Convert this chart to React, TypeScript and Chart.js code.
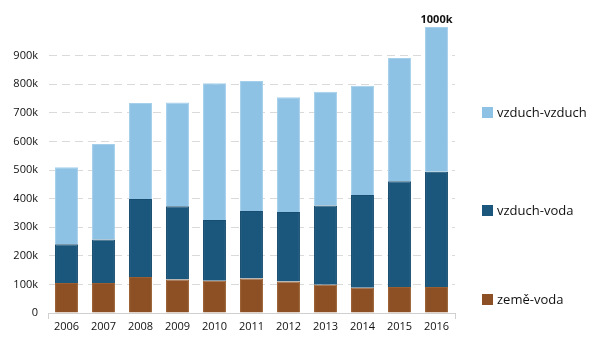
import React, { useEffect, useRef } from "react";
import { Chart, registerables } from "chart.js";

Chart.register(...registerables);

const years = ["2006", "2007", "2008", "2009", "2010", "2011", "2012", "2013", "2014", "2015", "2016"];
const zemeVoda = [105, 105, 126, 117, 113, 121, 110, 99, 88, 91, 91];
const vzduchVoda = [135, 152, 273, 256, 212, 236, 243, 277, 325, 370, 403];
const vzduchVzduch = [270, 334, 335, 363, 478, 454, 401, 398, 382, 431, 506];
const seriesNames = ["země-voda", "vzduch-voda", "vzduch-vzduch"];
const seriesColors = ["#8c5024", "#1b577d", "#8dc2e5"];
const seriesBorders = ["#9a5e30", "#174d70", "#a5cfeb"];
const totalLabel = "1000k";

const FONT = "'Open Sans', 'DejaVu Sans', sans-serif";

const totalPlugin = {
  id: "totalLabel",
  afterDatasetsDraw(chart: any) {
    const ctx = chart.ctx;
    const last = years.length - 1;
    const total = (zemeVoda[last] + vzduchVoda[last] + vzduchVzduch[last]) * 1000;
    const x = chart.scales.x.getPixelForValue(last);
    const y = chart.scales.y.getPixelForValue(total);
    ctx.save();
    ctx.font = `bold 11px ${FONT}`;
    ctx.fillStyle = "#111";
    ctx.textAlign = "center";
    ctx.textBaseline = "bottom";
    ctx.fillText(totalLabel, x, y - 2);
    ctx.restore();
  },
};

export default function App() {
  const ref = useRef<HTMLCanvasElement | null>(null);

  useEffect(() => {
    if (!ref.current) return;
    const data = [zemeVoda, vzduchVoda, vzduchVzduch];
    const chart = new Chart(ref.current, {
      type: "bar",
      data: {
        labels: years,
        datasets: data.map((d, i) => ({
          label: seriesNames[i],
          data: d.map((v) => v * 1000),
          backgroundColor: seriesColors[i],
          borderColor: seriesBorders[i],
          borderWidth: 1,
          categoryPercentage: 1,
          barPercentage: 0.62,
        })),
      },
      options: {
        animation: false,
        responsive: false,
        maintainAspectRatio: false,
        layout: { padding: { top: 27, right: 145, left: 0, bottom: 0 } },
        plugins: { legend: { display: false }, tooltip: { enabled: false } },
        scales: {
          x: {
            stacked: true,
            offset: true,
            grid: {
              display: true,
              offset: true,
              drawOnChartArea: false,
              tickLength: 6,
              color: (c: any) => (c.type === "scale" || c.index === 0 ? "#d0d0d0" : "rgba(0,0,0,0)"),
            },
            border: { display: true, color: "#d0d0d0" },
            ticks: { color: "#111", font: { family: FONT, size: 11 }, padding: 1, maxRotation: 0 },
            afterFit: (s: any) => { s.height = 35; },
          },
          y: {
            stacked: true,
            min: 0,
            max: 1000000,
            border: { display: true, color: "rgba(0,0,0,0)", dash: [8, 5] },
            grid: {
              color: (c: any) => (c.tick && (c.tick.value === 0 || c.tick.value === 1000000) ? "rgba(0,0,0,0)" : "#dadada"),
              drawTicks: false,
            },
            ticks: {
              stepSize: 100000,
              color: "#111",
              padding: 10,
              font: { family: FONT, size: 11 },
              callback: (v: any) => (v === 1000000 ? "" : v === 0 ? "0" : `${v / 1000}k`),
            },
            afterFit: (s: any) => { s.width = 48; },
          },
        },
      },
      plugins: [totalPlugin],
    });
    return () => chart.destroy();
  }, []);

  const legend = [
    { name: seriesNames[2], color: seriesColors[2], top: 106 },
    { name: seriesNames[1], color: seriesColors[1], top: 204 },
    { name: seriesNames[0], color: seriesColors[0], top: 293 },
  ];

  return (
    <div style={{ position: "fixed", left: 0, top: 0, width: 600, height: 348, background: "#fff" }}>
      <canvas ref={ref} width={600} height={348} style={{ width: 600, height: 348, display: "block" }} />
      {legend.map((l) => (
        <div key={l.name} style={{ position: "absolute", left: 482, top: l.top, display: "flex", alignItems: "center", fontFamily: FONT, fontSize: 13, color: "#111", lineHeight: "12px" }}>
          <span style={{ display: "inline-block", width: 11, height: 11, background: l.color, marginRight: 4 }} />
          <span>{l.name}</span>
        </div>
      ))}
    </div>
  );
}
